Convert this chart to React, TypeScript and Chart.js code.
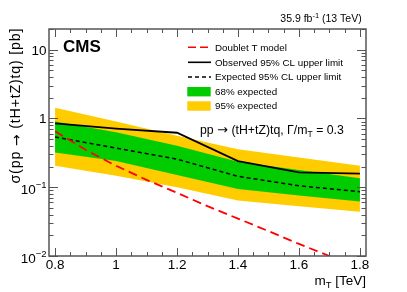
import React, { useEffect, useRef } from 'react';
import { Chart, registerables } from 'chart.js';

Chart.register(...registerables);

// ---- data ----
const masses = [0.8, 1.0, 1.2, 1.4, 1.6, 1.8];
const observedLimit = [0.85, 0.71, 0.62, 0.24, 0.165, 0.158];
const expectedLimit = [0.537, 0.37, 0.256, 0.144, 0.105, 0.086];
const band68Up = [0.9, 0.63, 0.4, 0.234, 0.178, 0.135];
const band68Down = [0.32, 0.24, 0.15, 0.094, 0.076, 0.062];
const band95Up = [1.43, 0.9, 0.56, 0.357, 0.27, 0.205];
const band95Down = [0.205, 0.147, 0.1, 0.064, 0.053, 0.044];

const modelMasses = [0.8, 0.9, 1.0, 1.1, 1.2, 1.3, 1.4, 1.5, 1.6, 1.7, 1.8];
const modelXsec = [0.65, 0.35, 0.205, 0.128, 0.083, 0.053, 0.035, 0.023, 0.015, 0.01, 0.0066];

const xMajorTicks = [0.8, 1.0, 1.2, 1.4, 1.6, 1.8];
const xTickLabels = ['0.8', '1', '1.2', '1.4', '1.6', '1.8'];
const yDecades = [0.01, 0.1, 1, 10];
const yTickBase = ['10', '10', '1', '10'];
const yTickExp = ['\u22122', '\u22121', '', ''];

const legendLabels = [
  'Doublet T model',
  'Observed 95% CL upper limit',
  'Expected 95% CL upper limit',
  '68% expected',
  '95% expected',
];

const FONT = '"Liberation Sans", Arial, Helvetica, sans-serif';
const ARROW_FONT = '"DejaVu Sans", sans-serif';
const GREEN = '#00CC00';
const YELLOW = '#FFCC00';
const RED = '#FF0000';

const pts = (xs: number[], ys: number[]) => xs.map((x, i) => ({ x, y: ys[i] }));

type Part = { t: string; size: number; dy?: number; bold?: boolean; fam?: string };

function drawRich(
  ctx: CanvasRenderingContext2D,
  parts: Part[],
  x: number,
  y: number,
  align: 'left' | 'right',
  targetWidth?: number
) {
  const fontOf = (p: Part) => `${p.bold ? 'bold ' : ''}${p.size}px ${p.fam || FONT}`;
  let total = 0;
  let nChars = 0;
  const widths = parts.map((p) => {
    ctx.font = fontOf(p);
    const w = ctx.measureText(p.t).width;
    total += w;
    nChars += p.t.length;
    return w;
  });
  let extra = 0;
  if (targetWidth && nChars > 1) extra = Math.max(0, (targetWidth - total) / (nChars - 1));
  const full = total + extra * (nChars - 1);
  let cx = align === 'left' ? x : x - full;
  ctx.textAlign = 'left';
  ctx.textBaseline = 'alphabetic';
  parts.forEach((p, i) => {
    ctx.font = fontOf(p);
    if (extra === 0) {
      ctx.fillText(p.t, cx, y + (p.dy || 0));
      cx += widths[i];
    } else {
      for (const ch of p.t) {
        ctx.fillText(ch, cx, y + (p.dy || 0));
        cx += ctx.measureText(ch).width + extra;
      }
    }
  });
}

const rootStyle = {
  id: 'rootStyle',
  afterDraw(chart: any) {
    const { ctx, chartArea: a, scales } = chart;
    const xs = scales.x;
    const ys = scales.y;
    ctx.save();

    // ticks
    ctx.strokeStyle = '#555';
    ctx.lineWidth = 1;
    const seg = (x1: number, y1: number, x2: number, y2: number) => {
      ctx.beginPath();
      ctx.moveTo(x1, y1);
      ctx.lineTo(x2, y2);
      ctx.stroke();
    };
    for (let k = 0; k <= 20; k++) {
      const v = 0.8 + k * 0.05;
      const px = Math.round(xs.getPixelForValue(v)) + 0.5;
      const len = k % 4 === 0 ? 8 : 4;
      seg(px, a.bottom, px, a.bottom - len);
      seg(px, a.top, px, a.top + len);
    }
    for (let e = -2; e <= 1; e++) {
      for (let m = 1; m <= 9; m++) {
        const v = m * Math.pow(10, e);
        if (v > ys.max) break;
        const py = Math.round(ys.getPixelForValue(v)) + 0.5;
        const len = m === 1 ? 9 : 4.5;
        seg(a.left, py, a.left + len, py);
        seg(a.right, py, a.right - len, py);
      }
    }

    // frame
    ctx.lineWidth = 1.5;
    ctx.strokeRect(a.left, a.top, a.right - a.left, a.bottom - a.top);

    ctx.fillStyle = '#000';
    // x tick labels
    ctx.font = `13.5px ${FONT}`;
    ctx.textAlign = 'center';
    ctx.textBaseline = 'alphabetic';
    xMajorTicks.forEach((v, i) => {
      ctx.fillText(xTickLabels[i], xs.getPixelForValue(v), 268.5);
    });
    // y tick labels
    yDecades.forEach((v, i) => {
      const py = ys.getPixelForValue(v);
      const parts: Part[] = [{ t: yTickBase[i], size: 13.5 }];
      if (yTickExp[i]) parts.push({ t: yTickExp[i], size: 9.5, dy: -6 });
      drawRich(ctx, parts, 46.5, py + 5 + (yTickExp[i] ? 1.5 : 0), 'right');
    });

    // axis titles
    drawRich(
      ctx,
      [
        { t: 'm', size: 13.5 },
        { t: 'T', size: 9.5, dy: 3.5 },
        { t: ' [TeV]', size: 13.5 },
      ],
      a.right,
      284.5,
      'right'
    );
    ctx.save();
    ctx.translate(20, a.top - 0.5);
    ctx.rotate(-Math.PI / 2);
    drawRich(
      ctx,
      [
        { t: '\u03C3(pp ', size: 14.3 },
        { t: '\u2192', size: 14, fam: ARROW_FONT, dy: 0.5 },
        { t: ' (tH+tZ)tq) [pb]', size: 14.3 },
      ],
      0,
      0,
      'right',
      155
    );
    ctx.restore();

    // CMS label
    drawRich(ctx, [{ t: 'CMS', size: 17, bold: true }], 63, 51.7, 'left');
    // lumi
    drawRich(
      ctx,
      [
        { t: '35.9 fb', size: 10.5 },
        { t: '-1', size: 7.5, dy: -4 },
        { t: ' (13 TeV)', size: 10.5 },
      ],
      361.7,
      21.5,
      'right'
    );

    // legend
    const rows = [47.3, 62.3, 77, 91.7, 106];
    const sx1 = 188;
    const sx2 = 211;
    ctx.lineWidth = 1.6;
    ctx.strokeStyle = RED;
    ctx.setLineDash([8, 4]);
    seg(sx1, rows[0], sx2, rows[0]);
    ctx.strokeStyle = '#000';
    ctx.setLineDash([]);
    seg(sx1, rows[1], sx2, rows[1]);
    ctx.setLineDash([4, 3]);
    seg(sx1, rows[2], sx2, rows[2]);
    ctx.setLineDash([]);
    ctx.fillStyle = GREEN;
    ctx.fillRect(187.3, rows[3] - 4.7, 23.4, 9.4);
    ctx.fillStyle = YELLOW;
    ctx.fillRect(187.3, rows[4] - 4.7, 23.4, 9.4);
    ctx.fillStyle = '#000';
    ctx.font = `9.8px ${FONT}`;
    ctx.textAlign = 'left';
    ctx.textBaseline = 'middle';
    legendLabels.forEach((l, i) => ctx.fillText(l, 215, rows[i] + 0.5));

    // process label
    drawRich(
      ctx,
      [
        { t: 'pp ', size: 12.3 },
        { t: '\u2192', size: 13, fam: ARROW_FONT, dy: 0.3 },
        { t: ' (tH+tZ)tq, \u0393/m', size: 12.3 },
        { t: 'T', size: 8.5, dy: 3 },
        { t: ' = 0.3', size: 12.3 },
      ],
      200,
      134,
      'left'
    );

    ctx.restore();
  },
};

export default function App() {
  const ref = useRef<HTMLCanvasElement | null>(null);
  useEffect(() => {
    if (!ref.current) return;
    const chart = new Chart(ref.current, {
      type: 'line',
      data: {
        datasets: [
          {
            label: 'Doublet T model',
            data: pts(modelMasses, modelXsec),
            borderColor: RED,
            borderWidth: 1.8,
            borderDash: [9, 5],
            fill: false,
          },
          {
            label: 'Observed',
            data: pts(masses, observedLimit),
            borderColor: '#000',
            borderWidth: 1.8,
            fill: false,
          },
          {
            label: 'Expected',
            data: pts(masses, expectedLimit),
            borderColor: '#000',
            borderWidth: 1.5,
            borderDash: [4, 3],
            fill: false,
          },
          {
            label: '68% up',
            data: pts(masses, band68Up),
            borderColor: 'rgba(0,0,0,0)',
            borderWidth: 0,
            backgroundColor: GREEN,
            fill: '+1',
          },
          {
            label: '68% down',
            data: pts(masses, band68Down),
            borderColor: 'rgba(0,0,0,0)',
            borderWidth: 0,
            fill: false,
          },
          {
            label: '95% up',
            data: pts(masses, band95Up),
            borderColor: 'rgba(0,0,0,0)',
            borderWidth: 0,
            backgroundColor: YELLOW,
            fill: '+1',
          },
          {
            label: '95% down',
            data: pts(masses, band95Down),
            borderColor: 'rgba(0,0,0,0)',
            borderWidth: 0,
            fill: false,
          },
        ],
      },
      options: {
        animation: false,
        responsive: false,
        maintainAspectRatio: false,
        layout: { padding: { left: 49, top: 29, right: 41, bottom: 36 } },
        plugins: {
          legend: { display: false },
          tooltip: { enabled: false },
          title: { display: false },
        },
        elements: { point: { radius: 0 }, line: { tension: 0 } },
        scales: {
          x: { type: 'linear', min: 0.78, max: 1.82, display: false },
          y: { type: 'logarithmic', min: 0.01, max: 20, display: false },
        },
      },
      plugins: [rootStyle],
    } as any);
    return () => chart.destroy();
  }, []);
  return (
    <div style={{ position: 'absolute', left: 0, top: 0, width: 407, height: 292, background: '#fff' }}>
      <canvas ref={ref} width={407} height={292} style={{ width: 407, height: 292, display: 'block' }} />
    </div>
  );
}
